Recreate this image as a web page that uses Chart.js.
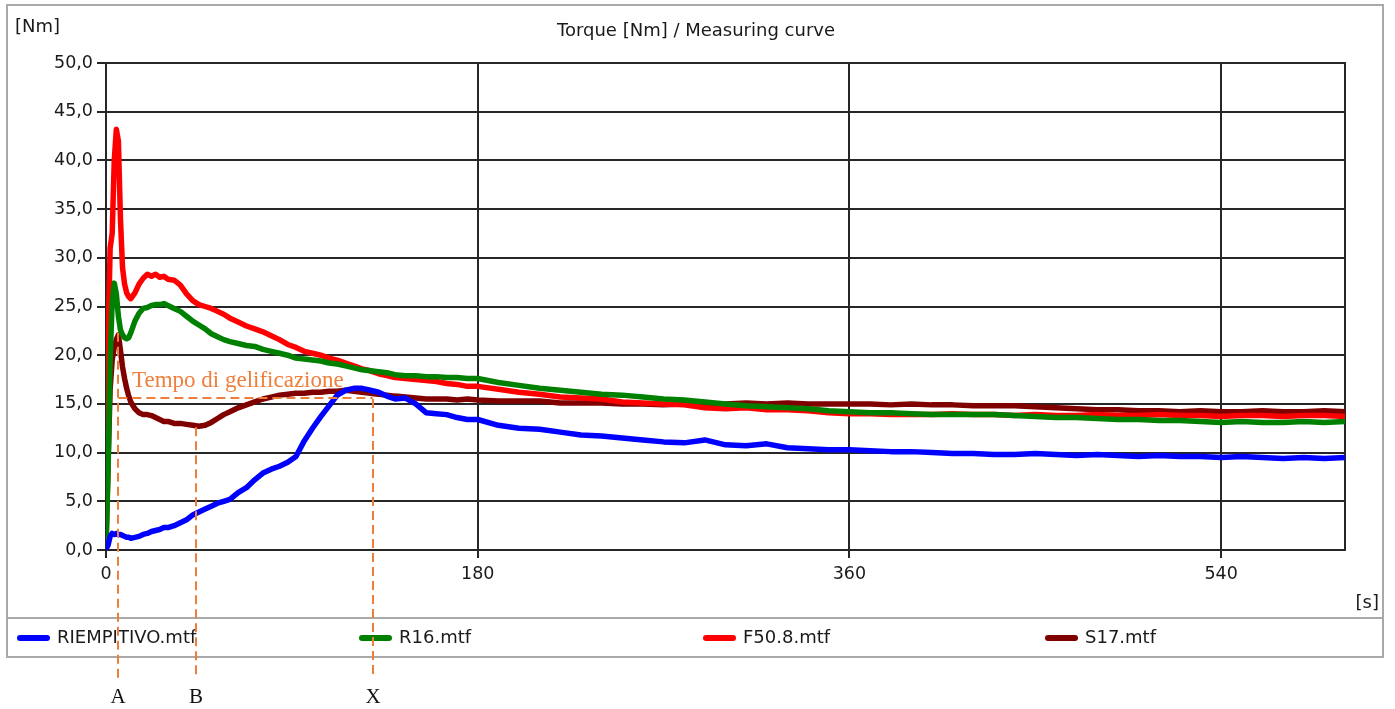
<!DOCTYPE html>
<html>
<head>
<meta charset="utf-8">
<script src="https://cdn.jsdelivr.net/npm/chart.js@4.4.1/dist/chart.umd.min.js"></script>
<style>
html,body{margin:0;padding:0;background:#fff;overflow:hidden}
#wrap{position:relative;width:1395px;height:709px}
</style>
</head>
<body>
<div id="wrap"><canvas id="c" width="1395" height="709"></canvas></div>
<script>
// ---- data ----
const timeSec = [0,1,2,3,4,5,6,7,8,9,10,11,12,
  14,16,18,20,22,24,26,28,30,
  33,36,39,42,45,48,51,54,57,60,
  64,68,72,76,80,84,88,92,96,100,104,108,112,116,120,124,128,132,136,140,
  145,150,155,160,165,170,175,180,
  190,200,210,220,230,240,250,260,270,280,290,300,310,320,330,340,350,360,370,380,390,400,
  410,420,430,440,450,460,470,480,490,500,510,520,530,540,550,560,570,580,590,600];

const riempitivo = [0.1,0.5,1.4,1.7,1.6,1.7,1.6,1.6,1.5,1.4,1.3,1.3,1.2,
  1.3,1.4,1.6,1.7,1.9,2.0,2.1,2.3,2.3,
  2.5,2.8,3.1,3.6,3.9,4.2,4.5,4.8,5.0,5.2,
  5.9,6.4,7.2,7.9,8.3,8.6,9.0,9.6,11.2,12.5,13.7,14.8,15.9,16.4,16.6,16.6,16.4,16.2,15.8,15.5,
  15.6,15.0,14.1,14.0,13.9,13.6,13.4,13.4,
  12.8,12.5,12.4,12.1,11.8,11.7,11.5,11.3,11.1,11.0,11.3,10.8,10.7,10.9,10.5,10.4,10.3,10.3,10.2,10.1,10.1,10.0,
  9.9,9.9,9.8,9.8,9.9,9.8,9.7,9.8,9.7,9.6,9.7,9.6,9.6,9.5,9.6,9.5,9.4,9.5,9.4,9.5];

const r16 = [0.2,8.0,19.5,25.5,27.4,26.3,24.0,22.6,22.1,21.8,21.7,21.8,22.3,
  23.5,24.3,24.8,24.9,25.1,25.2,25.2,25.3,25.1,
  24.8,24.5,24.0,23.5,23.1,22.7,22.2,21.9,21.6,21.4,
  21.2,21.0,20.9,20.6,20.4,20.2,20.0,19.7,19.6,19.5,19.4,19.2,19.1,18.9,18.7,18.5,18.4,18.3,18.2,18.0,
  17.9,17.9,17.8,17.8,17.7,17.7,17.6,17.6,
  17.2,16.9,16.6,16.4,16.2,16.0,15.9,15.7,15.5,15.4,15.2,15.0,14.8,14.7,14.6,14.5,14.3,14.2,14.1,14.1,14.0,13.9,
  13.9,13.9,13.9,13.8,13.7,13.6,13.6,13.5,13.4,13.4,13.3,13.3,13.2,13.1,13.2,13.1,13.1,13.2,13.1,13.2];

const f508 = [8.0,21.0,31.0,32.5,40.0,43.2,42.0,34.0,29.0,27.3,26.4,26.0,25.8,
  26.4,27.3,27.9,28.3,28.1,28.3,28.0,28.1,27.8,
  27.7,27.2,26.3,25.6,25.2,25.0,24.8,24.5,24.2,23.8,
  23.4,23.0,22.7,22.4,22.0,21.6,21.1,20.8,20.4,20.2,20.0,19.7,19.5,19.2,18.9,18.6,18.4,18.1,17.9,17.7,
  17.6,17.5,17.4,17.3,17.1,17.0,16.8,16.8,
  16.5,16.2,16.0,15.7,15.6,15.5,15.2,15.1,15.0,14.9,14.6,14.5,14.6,14.4,14.4,14.3,14.1,14.0,14.0,13.9,13.9,13.9,
  14.0,13.9,13.9,13.8,13.9,13.8,13.8,13.9,13.8,13.8,13.9,13.8,13.8,13.7,13.8,13.8,13.7,13.8,13.8,13.7];

const s17 = [0.5,9.0,16.5,19.5,20.8,21.6,22.1,20.5,18.8,17.6,16.6,15.8,15.2,
  14.5,14.1,13.9,13.9,13.8,13.6,13.4,13.2,13.2,
  13.0,13.0,12.9,12.8,12.7,12.8,13.1,13.5,13.9,14.2,
  14.6,14.9,15.2,15.5,15.7,15.9,16.0,16.1,16.1,16.2,16.2,16.3,16.3,16.4,16.3,16.2,16.1,16.0,15.9,15.8,
  15.7,15.6,15.5,15.5,15.5,15.4,15.5,15.4,
  15.3,15.3,15.3,15.1,15.1,15.1,15.0,15.0,14.9,15.0,14.9,15.0,15.1,15.0,15.1,15.0,15.0,15.0,15.0,14.9,15.0,14.9,
  14.9,14.8,14.8,14.8,14.7,14.6,14.5,14.4,14.4,14.3,14.3,14.2,14.3,14.2,14.2,14.3,14.2,14.2,14.3,14.2];

const seriesNames = ['RIEMPITIVO.mtf','R16.mtf','F50.8.mtf','S17.mtf'];
const seriesColors = ['#0000ff','#008000','#ff0000','#800000'];
const yTicks = [0,5,10,15,20,25,30,35,40,45,50];
const xTicks = [0,180,360,540];

// gel-time annotation (seconds / Nm)
const gelNames = ['A','B','X'];
const gelTimes = [6.0,43.6,129.2];
const gelTops = [22.3,12.6,15.5];
const gelLevel = 15.6;
const gelText = 'Tempo di gelificazione';

// ---- rendering ----
const SANS = '"DejaVu Sans", Verdana, sans-serif';
const SERIF = '"Liberation Serif", "Times New Roman", serif';
const INK = '#1a1a1a';
const ORANGE = '#ee7f3a';

const overlay = {
  id: 'overlay',
  beforeDraw(chart) {
    const ctx = chart.ctx;
    ctx.save();
    ctx.fillStyle = '#fff';
    ctx.fillRect(0, 0, chart.width, chart.height);
    ctx.restore();
  },
  beforeDatasetsDraw(chart) {
    const {ctx, chartArea: a} = chart;
    ctx.save();
    ctx.strokeStyle = '#262626';
    ctx.lineWidth = 2;
    ctx.strokeRect(a.left, a.top, a.right - a.left, a.bottom - a.top);
    ctx.restore();
  },
  afterDraw(chart) {
    const {ctx, scales: {x, y}} = chart;
    ctx.save();
    // outer frame + legend separator
    ctx.strokeStyle = '#a9a9a9';
    ctx.lineWidth = 2;
    ctx.strokeRect(7, 5, 1376, 652);
    ctx.beginPath(); ctx.moveTo(7, 618); ctx.lineTo(1383, 618); ctx.stroke();

    // texts
    ctx.fillStyle = INK;
    ctx.font = '18px ' + SANS;
    ctx.textBaseline = 'middle';
    ctx.textAlign = 'left';
    ctx.fillText('[Nm]', 15, 27);
    ctx.textAlign = 'center';
    ctx.fillText('Torque [Nm] / Measuring curve', 696, 31);
    ctx.textAlign = 'right';
    ctx.fillText('[s]', 1379, 603);

    // legend
    const lx = [17, 359, 703, 1045];
    seriesNames.forEach((n, i) => {
      ctx.strokeStyle = seriesColors[i];
      ctx.lineWidth = 6;
      ctx.lineCap = 'round';
      ctx.beginPath(); ctx.moveTo(lx[i] + 3, 638); ctx.lineTo(lx[i] + 30, 638); ctx.stroke();
      ctx.fillStyle = INK;
      ctx.textAlign = 'left';
      ctx.fillText(n, lx[i] + 40, 638);
    });

    // annotation
    ctx.lineCap = 'butt';
    ctx.strokeStyle = ORANGE;
    ctx.lineWidth = 2;
    ctx.setLineDash([9, 5]);
    gelTimes.forEach((t, i) => {
      const px = Math.round(x.getPixelForValue(t));
      ctx.beginPath(); ctx.moveTo(px, y.getPixelForValue(gelTops[i])); ctx.lineTo(px, 679); ctx.stroke();
    });
    const ly = Math.round(y.getPixelForValue(gelLevel));
    ctx.beginPath();
    ctx.moveTo(x.getPixelForValue(gelTimes[0]), ly);
    ctx.lineTo(x.getPixelForValue(gelTimes[2]), ly);
    ctx.stroke();
    ctx.setLineDash([]);
    ctx.fillStyle = ORANGE;
    ctx.font = '23px ' + SERIF;
    ctx.textAlign = 'left';
    ctx.textBaseline = 'alphabetic';
    ctx.fillText(gelText, x.getPixelForValue(12.6), y.getPixelForValue(16.7));
    ctx.fillStyle = '#111';
    ctx.font = '21px ' + SERIF;
    ctx.textAlign = 'center';
    ctx.textBaseline = 'middle';
    gelTimes.forEach((t, i) => ctx.fillText(gelNames[i], Math.round(x.getPixelForValue(t)), 697));
    ctx.restore();
  }
};

const seriesValues = [riempitivo, r16, f508, s17];
const tickFont = {family: SANS, size: 17.5};

new Chart(document.getElementById('c'), {
  type: 'line',
  data: {
    datasets: seriesValues.map((vals, i) => ({
      label: seriesNames[i],
      data: timeSec.map((t, j) => ({x: t, y: vals[j]})),
      borderColor: seriesColors[i],
      backgroundColor: seriesColors[i],
      borderWidth: 5.5,
      pointRadius: 0,
      tension: 0,
      fill: false,
      borderJoinStyle: 'round',
      borderCapStyle: 'round'
    }))
  },
  options: {
    responsive: false,
    animation: false,
    devicePixelRatio: 1,
    layout: {padding: {left: 0, top: 63, right: 50, bottom: 118}},
    plugins: {legend: {display: false}, title: {display: false}, tooltip: {enabled: false}},
    scales: {
      x: {
        type: 'linear', min: 0, max: 600,
        afterFit(s) { s.height = 41; },
        afterBuildTicks(s) { s.ticks = xTicks.map(v => ({value: v})); },
        grid: {color: '#262626', lineWidth: 2, tickLength: 8, drawTicks: true},
        border: {color: '#262626', width: 2},
        ticks: {font: tickFont, color: INK, padding: 6, maxRotation: 0, autoSkip: false, callback: v => String(v)}
      },
      y: {
        type: 'linear', min: 0, max: 50,
        afterFit(s) { s.width = 106; },
        afterBuildTicks(s) { s.ticks = yTicks.map(v => ({value: v})); },
        grid: {color: '#262626', lineWidth: 2, tickLength: 9, drawTicks: true},
        border: {color: '#262626', width: 2},
        ticks: {font: tickFont, color: INK, padding: 4, callback: v => Number(v).toFixed(1).replace('.', ',')}
      }
    }
  },
  plugins: [overlay]
});
</script>
</body>
</html>
